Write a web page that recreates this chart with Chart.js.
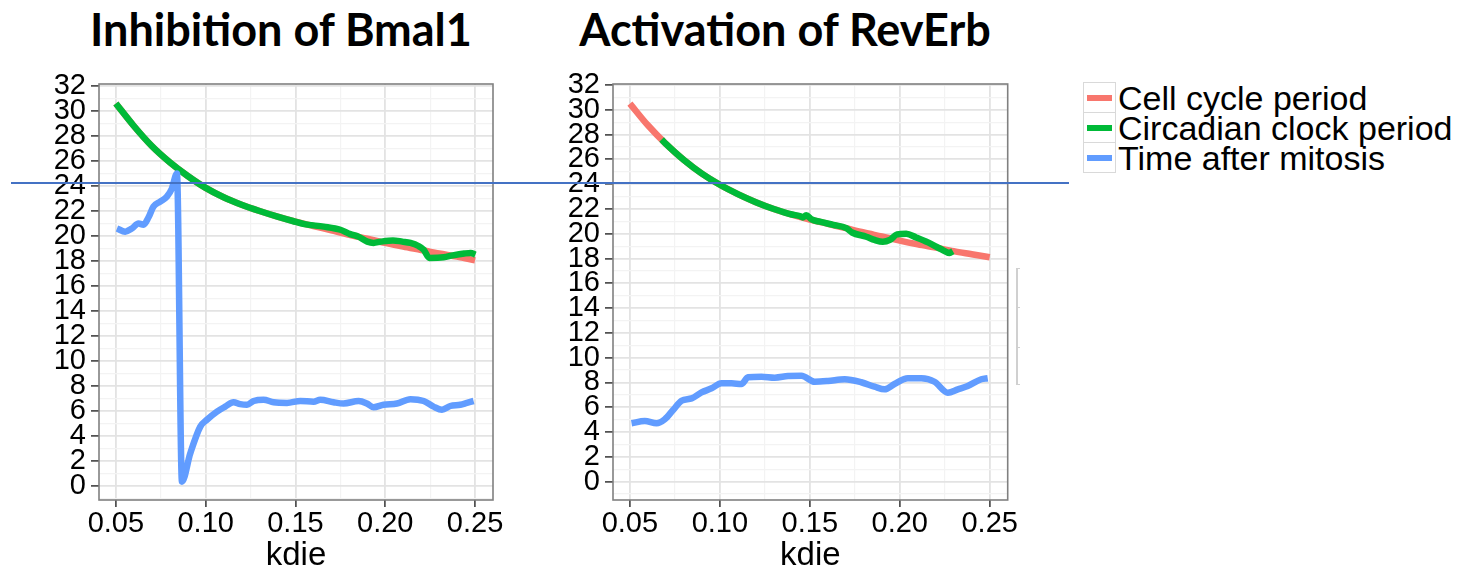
<!DOCTYPE html>
<html>
<head>
<meta charset="utf-8">
<script src="https://cdn.jsdelivr.net/npm/chart.js@4.4.1/dist/chart.umd.min.js"></script>
<style>
html,body{margin:0;padding:0;background:#fff;width:1470px;height:570px;overflow:hidden;position:relative;font-family:"Liberation Sans",Arial,sans-serif;}
canvas{position:absolute;}
.title{position:absolute;font-family:Lato,"Open Sans",sans-serif;font-weight:700;font-size:45px;line-height:1;white-space:nowrap;color:#000;transform:translateX(-50%);}
#legend{position:absolute;left:1083px;top:82px;}
.lrow{position:relative;height:30px;}
.lkey{position:absolute;left:0;top:0;width:31px;height:29px;border:1px solid #d9d9d9;background:#fff;}
.lbar{position:absolute;left:3px;top:12px;width:25px;height:6px;}
.ltext{position:absolute;left:35px;top:-3px;font-size:34px;line-height:38px;white-space:nowrap;color:#000;}
#hline{position:absolute;left:11px;top:182px;width:1058px;height:2px;background:#4472C4;z-index:10;}
.ghost{position:absolute;background:#d0d0d0;}
</style>
</head>
<body>
<div class="title" style="left:281px;top:7px" id="t0"></div>
<div class="title" style="left:785px;top:7px" id="t1"></div>
<canvas id="c0" width="510" height="510" style="left:0px;top:60px"></canvas>
<canvas id="c1" width="510" height="510" style="left:515px;top:60px"></canvas>
<div id="legend"></div>
<div id="hline"></div>
<div class="ghost" style="left:1016px;top:268px;width:1.5px;height:117px"></div>
<div class="ghost" style="left:1016px;top:268px;width:4px;height:1px"></div>
<div class="ghost" style="left:1016px;top:307px;width:4px;height:1px"></div>
<div class="ghost" style="left:1016px;top:347px;width:4px;height:1px"></div>
<div class="ghost" style="left:1016px;top:384px;width:4px;height:1px"></div>
<script>
// ---------- text / ticks ----------
const chartTitles = ['Inhibition of Bmal1', 'Activation of RevErb'];
const seriesNames = ['Cell cycle period', 'Circadian clock period', 'Time after mitosis'];
const seriesColors = ['#F8766D', '#00BA38', '#619CFF'];
const xAxisTitle = 'kdie';
const xTickLabels = [0.05, 0.10, 0.15, 0.20, 0.25];
const yTickLabels = [0, 2, 4, 6, 8, 10, 12, 14, 16, 18, 20, 22, 24, 26, 28, 30, 32];

// ---------- Inhibition of Bmal1 ----------
const kdieCellBmal1 = [0.05,0.06,0.07,0.08,0.09,0.10,0.11,0.12,0.13,0.14,0.15,0.16,0.17,0.18,0.19,0.20,0.21,0.22,0.23,0.24,0.25];
const cellBmal1 = [30.6,28.8,27.2,25.9,24.8,23.85,23.1,22.5,22.0,21.55,21.15,20.8,20.45,20.1,19.78,19.45,19.15,18.88,18.6,18.35,18.05];
const kdieClockBmal1 = [0.05,0.06,0.07,0.08,0.09,0.10,0.11,0.12,0.13,0.14,0.1485,0.155,0.1657,0.175,0.1805,0.185,0.19,0.1935,0.1975,0.2043,0.2095,0.214,0.2185,0.2214,0.2246,0.2325,0.2376,0.2440,0.2475,0.2502];
const clockBmal1 = [30.6,28.8,27.2,25.9,24.8,23.85,23.1,22.5,22.0,21.55,21.2,20.95,20.75,20.5,20.15,19.95,19.55,19.45,19.55,19.65,19.55,19.45,19.2,18.9,18.25,18.3,18.45,18.6,18.65,18.5];
const kdieMitosisBmal1 = [0.0506,0.0552,0.0589,0.0626,0.0654,0.0682,0.0709,0.0747,0.0784,0.0812,0.0840,0.0868,0.0914,0.0970,0.1007,0.1063,0.1109,0.1155,0.1192,0.1230,0.1267,0.1322,0.1378,0.1453,0.1527,0.1601,0.1638,0.1712,0.1768,0.1852,0.1898,0.1935,0.1991,0.2065,0.2140,0.2214,0.2269,0.2316,0.2362,0.2418,0.2455,0.2492];
const mitosisBmal1 = [20.6,20.35,20.6,21.0,20.9,21.5,22.35,22.75,23.15,23.8,25.0,0.35,2.6,4.75,5.3,5.95,6.35,6.7,6.55,6.5,6.8,6.9,6.7,6.65,6.8,6.75,6.9,6.7,6.6,6.8,6.6,6.3,6.5,6.6,6.95,6.8,6.35,6.1,6.4,6.5,6.65,6.8];

// ---------- Activation of RevErb ----------
const kdieCellRevErb = [0.05,0.06,0.07,0.08,0.09,0.10,0.11,0.12,0.13,0.14,0.15,0.16,0.17,0.18,0.19,0.20,0.21,0.22,0.23,0.24,0.25];
const cellRevErb = [30.5,28.75,27.25,25.95,24.85,23.95,23.2,22.55,22.0,21.55,21.15,20.8,20.45,20.1,19.78,19.45,19.15,18.88,18.6,18.35,18.1];
const kdieClockRevErb = [0.0676,0.07,0.08,0.09,0.10,0.11,0.12,0.13,0.14,0.1444,0.1462,0.148,0.151,0.1555,0.163,0.1703,0.1735,0.1814,0.186,0.1906,0.1945,0.1985,0.2036,0.2091,0.2157,0.2231,0.2277,0.2295];
const clockRevErb = [27.6,27.25,25.95,24.85,23.95,23.2,22.55,22.0,21.55,21.43,21.32,21.5,21.16,20.97,20.72,20.45,20.1,19.76,19.5,19.35,19.5,19.95,20.0,19.7,19.3,18.75,18.45,18.6];
const kdieMitosisRevErb = [0.0509,0.0583,0.0648,0.0694,0.0740,0.0787,0.0843,0.0898,0.0954,0.1009,0.1065,0.1120,0.1157,0.1231,0.1305,0.1379,0.1453,0.1527,0.1601,0.1694,0.1786,0.1860,0.1916,0.1971,0.2045,0.2120,0.2193,0.2267,0.2323,0.2378,0.2453,0.2489];
const mitosisRevErb = [4.71,4.9,4.71,5.03,5.78,6.53,6.72,7.2,7.53,7.93,7.93,7.88,8.42,8.47,8.39,8.52,8.55,8.06,8.12,8.26,8.02,7.66,7.45,7.88,8.34,8.34,8.06,7.18,7.45,7.72,8.26,8.34];

// ---------- build ----------
Chart.defaults.font.family = '"Liberation Sans", Arial, sans-serif';
Chart.defaults.color = '#000';
Chart.defaults.animation = false;

document.getElementById('t0').textContent = chartTitles[0];
document.getElementById('t1').textContent = chartTitles[1];

const legend = document.getElementById('legend');
seriesNames.forEach((n, i) => {
  const row = document.createElement('div'); row.className = 'lrow';
  const key = document.createElement('div'); key.className = 'lkey';
  const bar = document.createElement('div'); bar.className = 'lbar'; bar.style.background = seriesColors[i];
  key.appendChild(bar);
  const t = document.createElement('div'); t.className = 'ltext'; t.textContent = n;
  row.appendChild(key); row.appendChild(t); legend.appendChild(row);
});

function pts(xs, ys) { return xs.map((x, i) => ({x: x, y: ys[i]})); }

function withMinor(majors, min, max) {
  const out = majors.map(v => ({value: v, minor: false}));
  const step = majors[1] - majors[0];
  const cands = [majors[0] - step / 2];
  for (let i = 0; i < majors.length; i++) cands.push(majors[i] + step / 2);
  cands.forEach(v => { if (v > min && v < max) out.push({value: v, minor: true}); });
  out.sort((a, b) => a.value - b.value);
  return out;
}

const panelBorder = {
  id: 'panelBorder',
  afterDraw(chart) {
    const a = chart.chartArea, c = chart.ctx;
    c.save(); c.strokeStyle = '#808080'; c.lineWidth = 1.6;
    c.strokeRect(a.left, a.top, a.right - a.left, a.bottom - a.top);
    c.restore();
  }
};

function makeChart(id, sets, yMin, yMax, yAxisWidth, padRight) {
  const xMin = 0.0406, xMax = 0.2600;
  return new Chart(document.getElementById(id), {
    type: 'line',
    data: {
      datasets: sets.map((s, i) => ({
        label: seriesNames[i],
        data: pts(s[0], s[1]),
        borderColor: seriesColors[i],
        backgroundColor: seriesColors[i],
        borderWidth: 6.5,
        pointRadius: 0,
        fill: false,
        cubicInterpolationMode: 'monotone',
        borderJoinStyle: 'round',
        order: 3 - i
      }))
    },
    options: {
      responsive: false,
      animation: false,
      layout: {padding: {top: 24, right: padRight, left: 0, bottom: 0}},
      plugins: {legend: {display: false}, tooltip: {enabled: false}, title: {display: false}},
      scales: {
        x: {
          type: 'linear', min: xMin, max: xMax,
          afterBuildTicks: s => { s.ticks = withMinor(xTickLabels, xMin, xMax); },
          afterFit: s => { s.height = 70; },
          border: {display: false},
          grid: {
            drawOnChartArea: true, drawTicks: true, tickLength: 7,
            color: c => (c.tick && c.tick.minor) ? '#f3f3f3' : '#e3e3e3',
            lineWidth: c => (c.tick && c.tick.minor) ? 1.2 : 1.8,
            tickColor: c => (c.tick && c.tick.minor) ? 'rgba(0,0,0,0)' : '#333',
            tickWidth: 1.5
          },
          ticks: {
            autoSkip: false, maxRotation: 0, minRotation: 0, padding: 0,
            font: {size: 29},
            callback: (v, i, t) => t[i].minor ? '' : Number(v).toFixed(2)
          },
          title: {display: true, text: xAxisTitle, font: {size: 33, lineHeight: 0.85}, padding: {top: 0, bottom: 0}}
        },
        y: {
          type: 'linear', min: yMin, max: yMax,
          afterBuildTicks: s => { s.ticks = withMinor(yTickLabels, yMin, yMax); },
          afterFit: s => { s.width = yAxisWidth; },
          border: {display: false},
          grid: {
            drawOnChartArea: true, drawTicks: true, tickLength: 8,
            color: c => (c.tick && c.tick.minor) ? '#f3f3f3' : '#e3e3e3',
            lineWidth: c => (c.tick && c.tick.minor) ? 1.2 : 1.8,
            tickColor: c => (c.tick && c.tick.minor) ? 'rgba(0,0,0,0)' : '#333',
            tickWidth: 1.5
          },
          ticks: {
            autoSkip: false, padding: 5,
            font: {size: 29},
            callback: (v, i, t) => t[i].minor ? '' : String(v)
          }
        }
      }
    },
    plugins: [panelBorder]
  });
}

makeChart('c0', [
  [kdieCellBmal1, cellBmal1],
  [kdieClockBmal1, clockBmal1],
  [kdieMitosisBmal1, mitosisBmal1]
], -1.12, 32.16, 99, 17);

makeChart('c1', [
  [kdieCellRevErb, cellRevErb],
  [kdieClockRevErb, clockRevErb],
  [kdieMitosisRevErb, mitosisRevErb]
], -1.48, 32.08, 98, 17.3);
</script>
</body>
</html>
